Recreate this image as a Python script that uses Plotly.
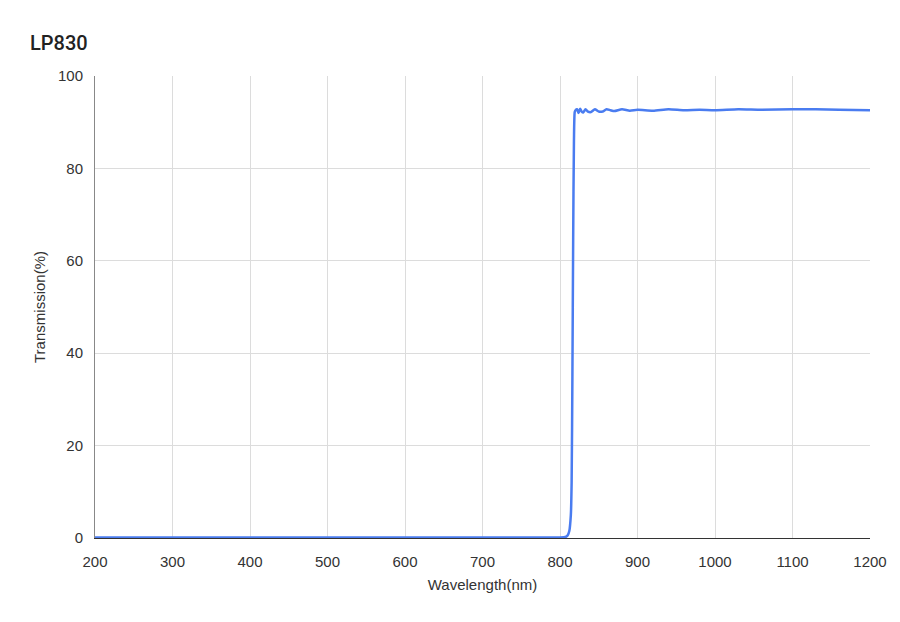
import plotly.graph_objects as go

wavelength = [200, 300, 400, 500, 600, 700, 780, 800, 805, 808, 810, 812, 814, 815, 816, 817, 818, 819,
              820, 822, 824, 826, 828, 830, 833, 836, 840, 845, 850, 855, 860, 865, 870, 880, 890,
              900, 920, 940, 960, 980, 1000, 1030, 1060, 1100, 1130, 1160, 1200]
transmission = [0.1, 0.1, 0.1, 0.1, 0.1, 0.1, 0.1, 0.1, 0.15, 0.3, 0.6, 1.5, 5, 12, 35, 65, 86, 92.2,
                92.6, 92.8, 92.0, 92.9, 92.3, 92.1, 92.8, 92.3, 92.2, 92.8, 92.3, 92.3, 92.8, 92.6, 92.4, 92.8, 92.5,
                92.7, 92.5, 92.8, 92.6, 92.7, 92.6, 92.8, 92.7, 92.8, 92.8, 92.7, 92.6]

x_ticks = [200, 300, 400, 500, 600, 700, 800, 900, 1000, 1100, 1200]
y_ticks = [0, 20, 40, 60, 80, 100]

fig = go.Figure()
fig.add_trace(go.Scatter(x=wavelength, y=transmission, mode="lines",
                         line=dict(color="#4a7cf0", width=2.5, shape="spline", smoothing=0.6),
                         hoverinfo="x+y", showlegend=False))

font_family = "Liberation Sans, Arial, sans-serif"
fig.update_layout(
    width=900, height=622,
    margin=dict(l=87, r=38, t=68, b=92),
    paper_bgcolor="white", plot_bgcolor="white",
    font=dict(family=font_family, color="#333333", size=15),
    title=dict(text="LP830", x=0.0245, xanchor="left", y=0.943, yanchor="middle",
               font=dict(size=20, color="#222222", family="Roboto, Liberation Sans, sans-serif", weight=500)),
    xaxis=dict(range=[200, 1200], tickvals=x_ticks, showgrid=True, gridcolor="#dcdcdc", gridwidth=1,
               showline=True, linecolor="#333333", linewidth=1.2, ticks="", zeroline=False,
               title=dict(text="Wavelength(nm)", font=dict(size=15), standoff=10),
               tickfont=dict(size=15)),
    yaxis=dict(range=[0, 100], tickvals=y_ticks, showgrid=True, gridcolor="#dcdcdc", gridwidth=1,
               showline=True, linecolor="#888888", linewidth=1, ticks="", zeroline=False,
               title=dict(text="Transmission(%)", font=dict(size=15), standoff=8),
               tickfont=dict(size=15), mirror=False),
)
fig.update_xaxes(ticklabelstandoff=10)
fig.update_yaxes(ticklabelstandoff=8)

fig.write_html("out.html")
